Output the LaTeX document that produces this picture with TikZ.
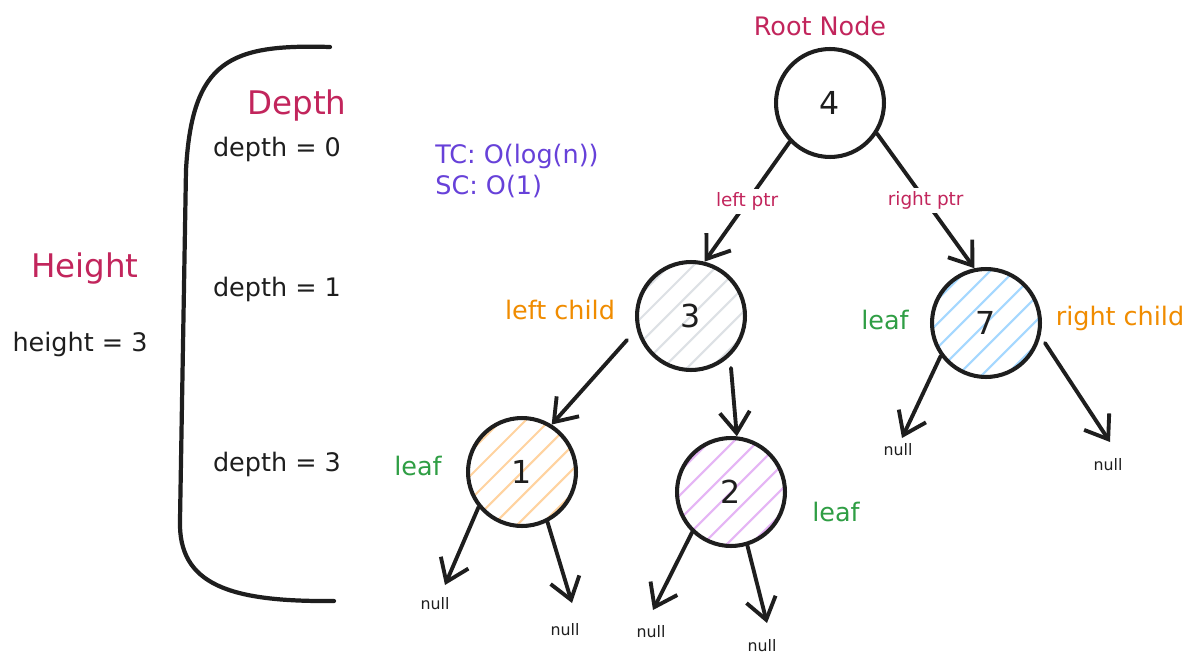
\documentclass[tikz,border=0pt]{standalone}
\usepackage{fontspec}
\setmainfont{DejaVu Sans}
\usetikzlibrary{arrows.meta}
\definecolor{crim}{HTML}{C2255C}
\definecolor{viol}{HTML}{6741D9}
\definecolor{orng}{HTML}{F08C00}
\definecolor{grn}{HTML}{2F9E44}
\definecolor{ink}{HTML}{1E1E1E}
\definecolor{hgray}{HTML}{DDE1E5}
\definecolor{horange}{HTML}{FFD3A0}
\definecolor{hviolet}{HTML}{E5B5F5}
\definecolor{hblue}{HTML}{A5D8FF}
\newcommand\hatchcirc[3]{%
  \begin{scope}
    \clip (#1,#2) circle[radius=53];
    \foreach \i in {-144,-120,...,144}
      \draw[#3, line width=1.2pt] (#1+\i-90,#2+90) -- (#1+\i+90,#2-90);
  \end{scope}}
\begin{document}
\begin{tikzpicture}[x=0.02cm,y=-0.02cm,
  txt/.style={font=\fontsize{14.5}{17}\selectfont, text=ink, inner sep=0pt},
  big/.style={font=\fontsize{18.5}{21}\selectfont, inner sep=0pt},
  small/.style={font=\fontsize{10.5}{12}\selectfont, text=ink, inner sep=0pt},
  tiny/.style={font=\fontsize{9}{10}\selectfont, text=ink, inner sep=0pt},
  tnode/.style={circle, draw=ink, line width=2.3pt, minimum size=2.16cm, inner sep=0pt, font=\fontsize{18}{20}\selectfont, text=ink},
  arr/.style={draw=ink, line width=2.2pt, line cap=round, -{Straight Barb[length=0.42cm,width=0.6cm,line width=2.2pt]}},
  bracket/.style={draw=ink, line width=2.4pt, line cap=round}]
\useasboundingbox (0,0) rectangle (1197,669);
\fill[white] (0,0) rectangle (1197,669);

% bracket
\draw[bracket] (330,47) .. controls (230,44) and (192,60) .. (186,170)
  -- (180,520) .. controls (178,585) and (230,602) .. (334,601);

% left texts
\node[big, text=crim] (depthT) at (297,106) {Depth};
\node[txt] (d0) at (277,149) {depth = 0};
\node[txt] (d1) at (277,289) {depth = 1};
\node[txt] (d3) at (277,464) {depth = 3};
\node[big, text=crim] (heightT) at (85,269) {Height};
\node[txt] (h3) at (80,344) {height = 3};

\node[txt, text=viol, anchor=west] (tc) at (435,156) {TC: O(log(n))};
\node[txt, text=viol, anchor=west] (sc) at (435,187) {SC: O(1)};

% hatch fills
\hatchcirc{691}{316}{hgray}
\hatchcirc{522}{472}{horange}
\hatchcirc{731}{492}{hviolet}
\hatchcirc{986}{323}{hblue}

% tree nodes
\node[tnode] (n4) at (830,103) {4};
\node[tnode] (n3) at (691,316) {3};
\node[tnode] (n7) at (986,323) {7};
\node[tnode] (n1) at (522,472) {1};
\node[tnode] (n2) at (731,492) {2};

\node[txt, text=crim] (root) at (820,26) {Root Node};
\node[txt, text=orng] (lc) at (560,310) {left child};
\node[txt, text=orng] (rc) at (1120,318) {right child};
\node[txt, text=grn] (leaf1) at (418,466) {leaf};
\node[txt, text=grn] (leaf7) at (885,320) {leaf};
\node[txt, text=grn] (leaf2) at (836,512) {leaf};

% edges
\draw[arr] (n4.224) -- node[small, text=crim, fill=white, inner sep=2pt] (lp) {left ptr} (n3.76);
\draw[arr] (n4.327) -- node[small, text=crim, fill=white, inner sep=2pt] (rp) {right ptr} (n7.102);
\coordinate (s31) at (627,340);
\coordinate (s32) at (731,368);
\draw[arr] (s31) -- (n1.58);
\draw[arr] (s32) -- (n2.84);

% null nodes
\node[tiny] (nl1) at (435,604) {null};
\node[tiny] (nr1) at (565,630) {null};
\node[tiny] (nl2) at (651,632) {null};
\node[tiny] (nr2) at (762,646) {null};
\node[tiny] (nl7) at (898,450) {null};
\node[tiny] (nr7) at (1108,465) {null};
\coordinate (tl1) at (445,585);
\coordinate (tr1) at (572,603);
\coordinate (tl2) at (653,610);
\coordinate (tr2) at (767,623);
\coordinate (tl7) at (902,438);
\coordinate (tr7) at (1110,442);
\coordinate (s7r) at (1045,343);
\draw[arr] (n1.219) -- (tl1);
\draw[arr] (n1.297) -- (tr1);
\draw[arr] (n2.226) -- (tl2);
\draw[arr] (n2.287) -- (tr2);
\draw[arr] (n7.216) -- (tl7);
\draw[arr] (s7r) -- (tr7);
\end{tikzpicture}
\end{document}
